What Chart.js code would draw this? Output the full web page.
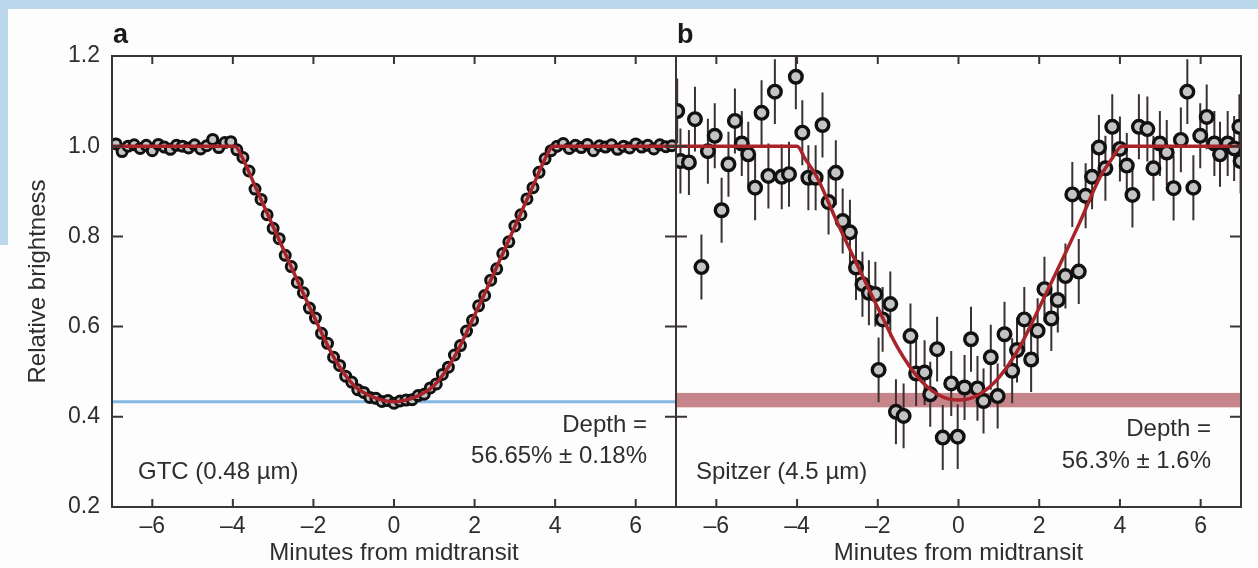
<!DOCTYPE html>
<html>
<head>
<meta charset="utf-8">
<script src="https://cdn.jsdelivr.net/npm/chart.js@4.4.1/dist/chart.umd.min.js"></script>
<style>
  html, body { margin: 0; padding: 0; background: #ffffff; }
  #wrap { position: relative; width: 1258px; height: 568px; overflow: hidden; background: #fdfdfd; }
  #bandTop { position: absolute; left: 0; top: 0; width: 1258px; height: 9px; background: #bcd8ec; }
  #bandLeft { position: absolute; left: 0; top: 0; width: 8px; height: 245px; background: #bcd8ec; }
  canvas { position: absolute; left: 0; top: 0; }
</style>
</head>
<body>
<div id="wrap">
  <div id="bandTop"></div>
  <div id="bandLeft"></div>
  <canvas id="cA" width="1258" height="568"></canvas>
  <canvas id="cB" width="1258" height="568"></canvas>
</div>
<script>
// ---------- data ----------
const xTicks = [-6, -4, -2, 0, 2, 4, 6];
const yTicks = [0.2, 0.4, 0.6, 0.8, 1.0, 1.2];

// Panel a: GTC (0.48 um)
const xA = [-6.9,-6.75,-6.6,-6.45,-6.3,-6.15,-6.0,-5.85,-5.7,-5.55,-5.4,-5.25,-5.1,-4.95,-4.8,-4.65,-4.5,-4.35,-4.2,-4.05,
  -3.9,-3.75,-3.6,-3.45,-3.3,-3.15,-3.0,-2.85,-2.7,-2.55,-2.4,-2.25,-2.1,-1.95,-1.8,-1.65,-1.5,-1.35,-1.2,-1.05,-0.9,-0.75,-0.6,-0.45,-0.3,-0.15,0,
  0.15,0.3,0.45,0.6,0.75,0.9,1.05,1.2,1.35,1.5,1.65,1.8,1.95,2.1,2.25,2.4,2.55,2.7,2.85,3.0,3.15,3.3,3.45,3.6,3.75,3.9,
  4.05,4.2,4.35,4.5,4.65,4.8,4.95,5.1,5.25,5.4,5.55,5.7,5.85,6.0,6.15,6.3,6.45,6.6,6.75,6.9];
const yA = [1.005,0.988,1.0,1.003,0.995,1.002,0.990,1.004,0.998,0.993,1.002,1.0,0.996,1.003,0.994,1.001,1.015,0.997,1.008,1.01,
  0.992,0.975,0.945,0.905,0.882,0.848,0.818,0.795,0.758,0.733,0.698,0.675,0.641,0.619,0.585,0.563,0.532,0.514,0.49,0.477,0.46,0.454,0.443,0.441,0.434,0.436,0.43,
  0.435,0.437,0.438,0.447,0.45,0.464,0.473,0.494,0.51,0.537,0.558,0.59,0.614,0.646,0.669,0.703,0.728,0.762,0.788,0.823,0.848,0.883,0.908,0.942,0.972,0.99,
  1.0,1.006,0.995,1.002,0.997,1.004,0.99,1.001,0.998,1.003,0.993,1.0,0.996,1.005,0.998,1.002,0.994,1.003,0.999,1.001];
const modelAx = [-7,-3.95,-3.75,-3.5,-3.0,-2.5,-2.0,-1.5,-1.0,-0.5,0,0.5,1.0,1.5,2.0,2.5,3.0,3.5,3.75,3.95,7];
const modelAy = [1.0,1.0,0.972,0.922,0.822,0.722,0.625,0.533,0.47,0.443,0.4335,0.443,0.47,0.533,0.625,0.722,0.822,0.922,0.972,1.0,1.0];
const depthA = 0.4335;

// Panel b: Spitzer (4.5 um)
const xB = [-6.97,-6.89,-6.68,-6.53,-6.37,-6.21,-6.04,-5.87,-5.70,-5.54,-5.37,-5.21,-5.04,-4.88,-4.71,-4.55,-4.38,-4.20,-4.03,-3.87,
  -3.72,-3.54,-3.37,-3.22,-3.04,-2.87,-2.69,-2.54,-2.38,-2.22,-2.06,-1.98,-1.88,-1.69,-1.55,-1.36,-1.19,-1.05,-0.84,-0.70,
  -0.53,-0.39,-0.18,-0.02,0.15,0.31,0.47,0.62,0.80,0.97,1.14,1.33,1.45,1.63,1.80,1.96,2.13,2.30,2.46,2.65,
  2.82,2.98,3.15,3.31,3.48,3.64,3.81,4.00,4.17,4.31,4.47,4.68,4.83,4.99,5.16,5.33,5.51,5.67,5.82,5.99,
  6.15,6.34,6.48,6.67,6.83,6.96,6.99];
const yB = [1.078,0.967,0.964,1.060,0.732,0.989,1.023,0.858,0.960,1.056,1.006,0.982,0.908,1.074,0.934,1.121,0.932,0.938,1.154,1.030,
  0.930,0.930,1.047,0.876,0.941,0.834,0.809,0.731,0.694,0.675,0.672,0.504,0.616,0.650,0.411,0.402,0.579,0.496,0.498,0.450,
  0.550,0.354,0.474,0.356,0.465,0.572,0.463,0.435,0.532,0.446,0.583,0.502,0.548,0.616,0.527,0.591,0.683,0.618,0.659,0.712,
  0.893,0.722,0.890,0.932,0.997,0.951,1.043,0.994,0.957,0.892,1.043,1.038,0.951,1.006,0.986,0.907,1.014,1.121,0.908,1.023,
  1.065,1.006,0.982,1.006,0.995,1.043,0.967];
const errB = 0.072;
const modelBx = [-7,-4.0,-3.8,-3.5,-3.0,-2.5,-2.0,-1.5,-1.0,-0.5,0,0.5,1.0,1.5,2.0,2.5,3.0,3.5,3.8,4.05,7];
const modelBy = [1.0,1.0,0.972,0.93,0.83,0.735,0.642,0.552,0.487,0.449,0.437,0.449,0.487,0.552,0.642,0.735,0.83,0.93,0.972,1.0,1.0];
const depthB = 0.437;
const depthBErr = 0.016;

// ---------- styling ----------
const FONT = '"Liberation Sans", Arial, Helvetica, sans-serif';
const TEXT = '#2e2e2e';
const AXIS = '#3a3434';
Chart.defaults.font.family = FONT;
Chart.defaults.color = TEXT;

const toPts = (xs, ys) => xs.map((x, i) => ({x: x, y: ys[i]}));
const xLabel = v => (v < 0 ? '\u2013' + Math.abs(v) : String(v));

const framePlugin = {
  id: 'frame',
  beforeDatasetsDraw(chart, args, opts) {
    const {ctx, chartArea: ca, scales: {x, y}} = chart;
    ctx.save();
    ctx.beginPath();
    ctx.rect(ca.left, ca.top, ca.right - ca.left, ca.bottom - ca.top);
    ctx.clip();
    if (opts.band) {
      const y1 = y.getPixelForValue(opts.band.center + opts.band.err);
      const y2 = y.getPixelForValue(opts.band.center - opts.band.err);
      ctx.fillStyle = opts.band.color;
      ctx.fillRect(ca.left, y1, ca.right - ca.left, y2 - y1);
    }
    if (opts.errors) {
      const ds = chart.data.datasets[opts.errors.dataset].data;
      ctx.strokeStyle = opts.errors.color;
      ctx.lineWidth = 2;
      ctx.beginPath();
      ds.forEach((p) => {
        const px = x.getPixelForValue(p.x);
        ctx.moveTo(px, y.getPixelForValue(p.y + opts.errors.err));
        ctx.lineTo(px, y.getPixelForValue(p.y - opts.errors.err));
      });
      ctx.stroke();
    }
    ctx.restore();
  },
  afterDraw(chart, args, opts) {
    const {ctx, chartArea: ca, scales: {x, y}} = chart;
    ctx.save();
    ctx.strokeStyle = AXIS;
    ctx.lineWidth = 2;
    ctx.strokeRect(ca.left, ca.top, ca.right - ca.left, ca.bottom - ca.top);
    ctx.beginPath();
    xTicks.forEach(v => {
      const px = x.getPixelForValue(v);
      ctx.moveTo(px, ca.bottom); ctx.lineTo(px, ca.bottom - 8);
      ctx.moveTo(px, ca.top); ctx.lineTo(px, ca.top + 8);
    });
    yTicks.forEach(v => {
      const py = y.getPixelForValue(v);
      ctx.moveTo(ca.left, py); ctx.lineTo(ca.left + 11, py);
      ctx.moveTo(ca.right, py); ctx.lineTo(ca.right - 11, py);
    });
    ctx.stroke();
    (opts.texts || []).forEach(t => {
      ctx.font = (t.bold ? 'bold ' : '') + t.size + 'px ' + FONT;
      ctx.fillStyle = t.color || TEXT;
      ctx.textAlign = t.align || 'left';
      ctx.textBaseline = 'alphabetic';
      ctx.fillText(t.text, t.x, t.y);
    });
    ctx.restore();
  }
};

function makeScales(showY, yWidth) {
  return {
    x: {
      type: 'linear', min: -7, max: 7,
      afterBuildTicks: s => { s.ticks = xTicks.map(v => ({value: v})); },
      afterFit: s => { s.height = 61; },
      grid: {display: false, drawTicks: false},
      border: {display: false},
      ticks: {padding: 6, font: {size: 23}, color: TEXT, callback: xLabel, maxRotation: 0},
      title: {display: true, text: 'Minutes from midtransit', font: {size: 24}, color: TEXT, padding: {top: 0, bottom: 0}}
    },
    y: {
      type: 'linear', min: 0.2, max: 1.2,
      afterBuildTicks: s => { s.ticks = yTicks.map(v => ({value: v})); },
      afterFit: s => { s.width = yWidth; },
      grid: {display: false, drawTicks: false},
      border: {display: false},
      ticks: {display: showY, padding: 12, font: {size: 23}, color: TEXT, callback: v => Number(v).toFixed(1)},
      title: {display: showY, text: 'Relative brightness', font: {size: 24}, color: TEXT, padding: {top: 24, bottom: 0}}
    }
  };
}

const ptStyle = (r, bw) => ({
  showLine: false, pointRadius: r, pointBorderWidth: bw,
  pointBackgroundColor: '#c4c4c4', pointBorderColor: '#111111', clip: 0
});

new Chart(document.getElementById('cA'), {
  type: 'scatter',
  data: {
    datasets: [
      {label: 'Model', data: toPts(modelAx, modelAy), showLine: true, borderColor: '#a8242a', borderWidth: 3.5,
       pointRadius: 0, cubicInterpolationMode: 'monotone', order: 0, clip: 0},
      Object.assign({label: 'GTC', data: toPts(xA, yA), order: 1}, ptStyle(5, 3)),
      {label: 'Depth', data: [{x: -7, y: depthA}, {x: 7, y: depthA}], showLine: true, borderColor: '#84b8e3',
       borderWidth: 3, pointRadius: 0, order: 2, clip: 0}
    ]
  },
  options: {
    responsive: false, animation: false, events: [],
    layout: {padding: {top: 56, right: 582, left: 0, bottom: 0}},
    plugins: {
      legend: {display: false}, tooltip: {enabled: false},
      frame: {
        texts: [
          {text: 'a', x: 113, y: 43, size: 27, bold: true, color: '#1a1a1a'},
          {text: 'GTC (0.48 \u00b5m)', x: 138, y: 479, size: 24},
          {text: 'Depth =', x: 647, y: 432, size: 24, align: 'right'},
          {text: '56.65% \u00b1 0.18%', x: 647, y: 463, size: 24, align: 'right'}
        ]
      }
    },
    scales: makeScales(true, 112)
  },
  plugins: [framePlugin]
});

new Chart(document.getElementById('cB'), {
  type: 'scatter',
  data: {
    datasets: [
      {label: 'Model', data: toPts(modelBx, modelBy), showLine: true, borderColor: '#a8242a', borderWidth: 3.5,
       pointRadius: 0, cubicInterpolationMode: 'monotone', order: 0, clip: 0},
      Object.assign({label: 'Spitzer', data: toPts(xB, yB), order: 1}, ptStyle(6.3, 3.4))
    ]
  },
  options: {
    responsive: false, animation: false, events: [],
    layout: {padding: {top: 56, right: 17, left: 0, bottom: 0}},
    plugins: {
      legend: {display: false}, tooltip: {enabled: false},
      frame: {
        band: {center: depthB, err: depthBErr, color: '#c6858b'},
        errors: {dataset: 1, err: errB, color: '#3b3131'},
        texts: [
          {text: 'b', x: 677, y: 43, size: 27, bold: true, color: '#1a1a1a'},
          {text: 'Spitzer (4.5 \u00b5m)', x: 696, y: 479, size: 24},
          {text: 'Depth =', x: 1211, y: 436, size: 24, align: 'right'},
          {text: '56.3% \u00b1 1.6%', x: 1211, y: 468, size: 24, align: 'right'}
        ]
      }
    },
    scales: makeScales(false, 676)
  },
  plugins: [framePlugin]
});
</script>
</body>
</html>
